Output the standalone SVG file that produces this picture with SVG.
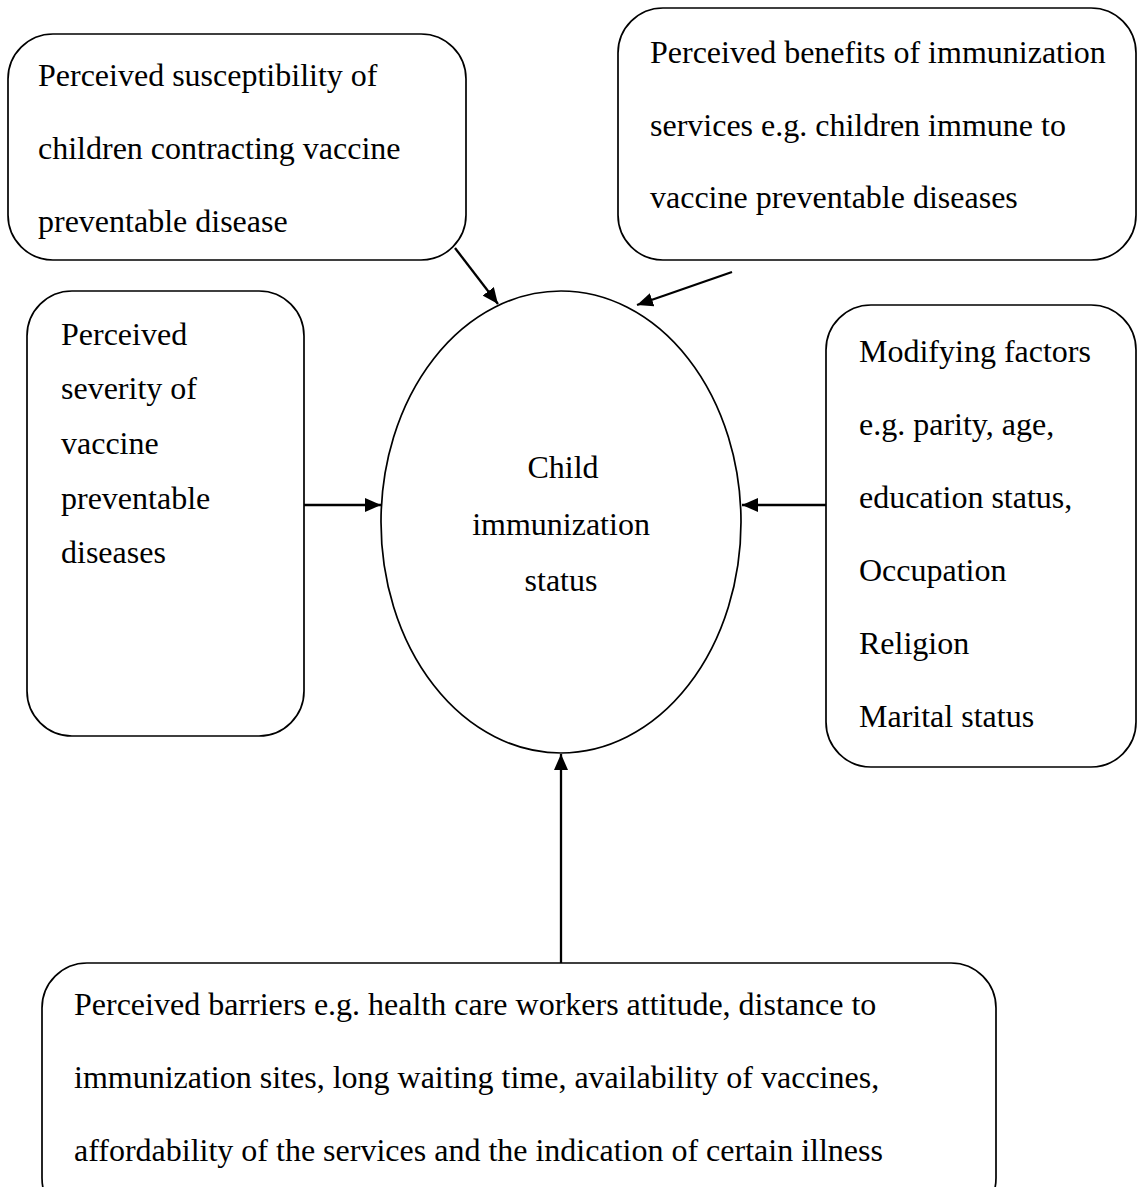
<svg xmlns="http://www.w3.org/2000/svg" width="1138" height="1187" viewBox="0 0 1138 1187">
<defs>
<style>
.box{fill:#fff;stroke:#000;stroke-width:1.7}
.t{font-family:"Liberation Serif","Times New Roman",serif;font-size:32px;fill:#000}
.c{stroke:#000;stroke-width:2.3;fill:none;marker-end:url(#ah)}
</style>
<marker id="ah" viewBox="0 0 16 14" refX="16" refY="7" markerWidth="16" markerHeight="14" markerUnits="userSpaceOnUse" orient="auto">
<path d="M0,0 L16,7 L0,14 z" fill="#000"/>
</marker>
</defs>
<rect width="1138" height="1187" fill="#fff"/>
<g id="connectors">
<line class="c" x1="455" y1="248" x2="498" y2="304"/>
<line class="c" x1="732" y1="272" x2="637" y2="305"/>
<line class="c" x1="304" y1="505" x2="381" y2="505"/>
<line class="c" x1="826" y1="505" x2="742" y2="505"/>
<line class="c" x1="561" y1="963" x2="561" y2="754"/>
</g>
<g id="susceptibility">
<rect class="box" x="8" y="34" width="458" height="226" rx="45"/>
<text class="t" x="38" y="86">Perceived susceptibility of</text>
<text class="t" x="38" y="159">children contracting vaccine</text>
<text class="t" x="38" y="232">preventable disease</text>
</g>
<g id="benefits">
<rect class="box" x="618" y="8" width="518" height="252" rx="45"/>
<text class="t" x="650" y="63">Perceived benefits of immunization</text>
<text class="t" x="650" y="136">services e.g. children immune to</text>
<text class="t" x="650" y="208">vaccine preventable diseases</text>
</g>
<g id="severity">
<rect class="box" x="27" y="291" width="277" height="445" rx="45"/>
<text class="t" x="61" y="345">Perceived</text>
<text class="t" x="61" y="399">severity of</text>
<text class="t" x="61" y="454">vaccine</text>
<text class="t" x="61" y="509">preventable</text>
<text class="t" x="61" y="563">diseases</text>
</g>
<g id="status">
<ellipse class="box" cx="561" cy="522" rx="180" ry="231"/>
<text class="t" x="563" y="478" text-anchor="middle">Child</text>
<text class="t" x="561" y="535" text-anchor="middle">immunization</text>
<text class="t" x="561" y="591" text-anchor="middle">status</text>
</g>
<g id="modifying">
<rect class="box" x="826" y="305" width="310" height="462" rx="45"/>
<text class="t" x="859" y="362">Modifying factors</text>
<text class="t" x="859" y="435">e.g. parity, age,</text>
<text class="t" x="859" y="508">education status,</text>
<text class="t" x="859" y="581">Occupation</text>
<text class="t" x="859" y="654">Religion</text>
<text class="t" x="859" y="727">Marital status</text>
</g>
<g id="barriers">
<rect class="box" x="42" y="963" width="954" height="260" rx="45"/>
<text class="t" x="74" y="1015">Perceived barriers e.g. health care workers attitude, distance to</text>
<text class="t" x="74" y="1088">immunization sites, long waiting time, availability of vaccines,</text>
<text class="t" x="74" y="1161">affordability of the services and the indication of certain illness</text>
</g>
</svg>
